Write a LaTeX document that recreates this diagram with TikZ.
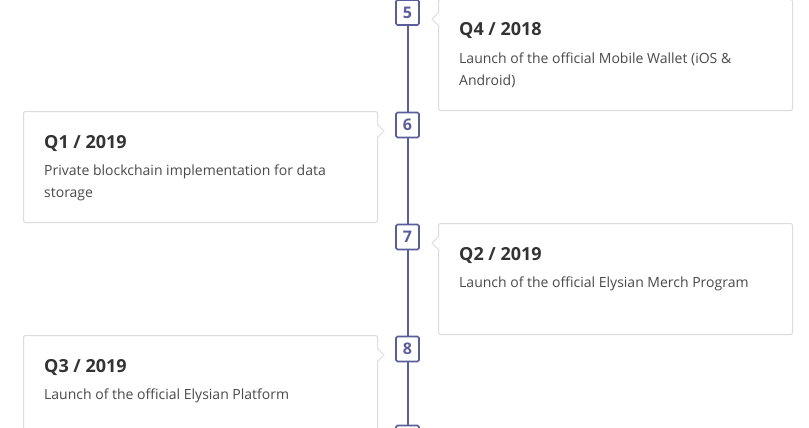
\documentclass[tikz,border=0pt]{standalone}
\usepackage{fontspec}
\setmainfont{Open Sans}
\definecolor{tl}{HTML}{5A5E9A}
\definecolor{bd}{HTML}{DCDCDC}
\definecolor{tt}{HTML}{333333}
\definecolor{bt}{HTML}{4A4A4A}
\tikzset{
  card/.style={draw=bd, line width=1pt, fill=white, rounded corners=2pt, minimum width=354pt, minimum height=111pt, inner sep=0pt, anchor=north west},
  numbox/.style={draw=tl, line width=1.7pt, fill=white, rounded corners=1.5pt, minimum width=23pt, minimum height=25pt, inner sep=0pt, text=tl, font=\fontsize{16}{18}\selectfont\bfseries},
  ttl/.style={anchor=base west, inner sep=0pt, text=tt, font=\fontsize{18}{20}\selectfont\bfseries},
  bdy/.style={anchor=base west, inner sep=0pt, text=bt, font=\fontsize{14}{22}\selectfont, align=left},
  tlline/.style={draw=tl, line width=2pt}
}
\begin{document}
\begin{tikzpicture}[x=1pt,y=-1pt]
\useasboundingbox (0,0) rectangle (809,428);
\fill[white] (0,0) rectangle (809,428);
% timeline
\coordinate (ltop) at (407.5,-5);
\coordinate (lbot) at (407.5,440);
\draw[tlline] (ltop) -- (lbot);
% cards
\node[card] (c5) at (438,-1) {};
\node[card] (c6) at (23,111) {};
\node[card] (c7) at (438,223) {};
\node[card] (c8) at (23,335) {};
% pointers
\foreach \c in {c5,c7}{
  \fill[white] ([yshift=-8pt]\c.north west) ++(1,0) -- ++(0,6) -- ++(-7,6) -- ++(7,6) -- cycle;
  \draw[bd, line width=1pt] ([yshift=-8pt]\c.north west) ++(0,6) -- ++(-6,6) -- ++(6,6);
}
\foreach \c in {c6,c8}{
  \fill[white] ([yshift=-8pt]\c.north east) ++(-1,0) -- ++(0,6) -- ++(7,6) -- ++(-7,6) -- cycle;
  \draw[bd, line width=1pt] ([yshift=-8pt]\c.north east) ++(0,6) -- ++(6,6) -- ++(-6,6);
}
% number boxes
\node[numbox] (n5) at (407.5,12.5) {5};
\node[numbox] (n6) at (407.5,125) {6};
\node[numbox] (n7) at (407.5,237) {7};
\node[numbox] (n8) at (407.5,349) {8};
\node[numbox] (n9) at (407.5,438) {};
% texts
\node[ttl] (t5) at (459,36) {Q4 / 2018};
\node[bdy] (b5) at (459,85) {Launch of the official Mobile Wallet (iOS \&\\Android)};
\node[ttl] (t6) at (44,148) {Q1 / 2019};
\node[bdy] (b6) at (44,197) {Private blockchain implementation for data\\storage};
\node[ttl] (t7) at (459,260) {Q2 / 2019};
\node[bdy] (b7) at (459,287) {Launch of the official Elysian Merch Program};
\node[ttl] (t8) at (44,372) {Q3 / 2019};
\node[bdy] (b8) at (44,399) {Launch of the official Elysian Platform};
\end{tikzpicture}
\end{document}
